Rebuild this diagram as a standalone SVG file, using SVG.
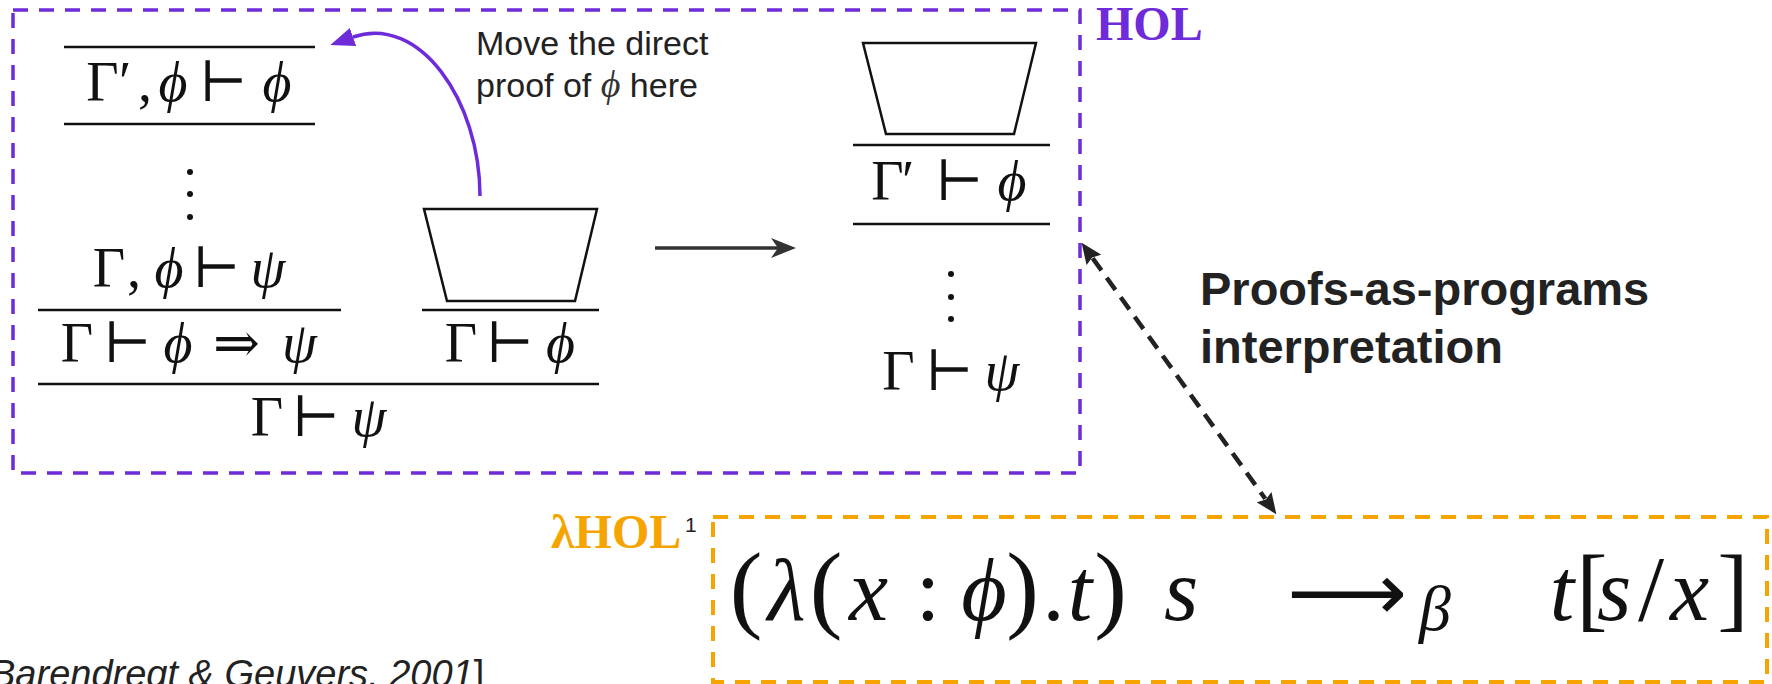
<svg xmlns="http://www.w3.org/2000/svg" width="1772" height="684" viewBox="0 0 1772 684">
<style>
.m{font-family:"Liberation Serif","DejaVu Serif",serif;font-size:56px;fill:#111;text-anchor:middle}
.i{font-style:italic}
.f{font-family:"Liberation Serif","DejaVu Serif",serif;font-size:88px;fill:#111;text-anchor:middle}
.rule{stroke:#111;stroke-width:2.5}
.trap{fill:none;stroke:#111;stroke-width:2.5;stroke-linejoin:miter}
.dot{fill:#111}
.sans{font-family:"Liberation Sans",Arial,sans-serif;fill:#222}
.hol{font-family:"Liberation Serif","Times New Roman",serif;font-weight:bold;font-size:48px}
</style>
<defs>
<marker id="ahPurple" markerUnits="userSpaceOnUse" viewBox="0 0 24 19" markerWidth="24" markerHeight="19" refX="0" refY="9.5" orient="auto"><path d="M0,0 L24,9.5 L0,19 z" fill="#6d2bd9"/></marker>
<marker id="ahSolid" markerUnits="userSpaceOnUse" viewBox="0 0 25 20" markerWidth="25" markerHeight="20" refX="7" refY="10" orient="auto"><path d="M0,0 L25,10 L0,20 L7,10 z" fill="#333"/></marker>
<marker id="ahDash" markerUnits="userSpaceOnUse" viewBox="0 0 21 18" markerWidth="21" markerHeight="18" refX="2" refY="9" orient="auto-start-reverse"><path d="M0,0 L21,9 L0,18 L3,9 z" fill="#222"/></marker>
</defs>

<g id="hol-box">
<rect x="13" y="10" width="1067" height="463" fill="none" stroke="#6d2bd9" stroke-width="3.5" stroke-dasharray="15 11"/>
<text class="hol" x="1096" y="40" fill="#6d2bd9">HOL</text>
</g>

<g id="proof-before">
<line class="rule" x1="64" y1="47" x2="315" y2="47"/>
<text class="m" y="101"><tspan x="102.5">Γ</tspan><tspan x="125">′</tspan><tspan x="145">,</tspan><tspan class="i" x="173">ϕ</tspan><tspan x="223.5">⊢</tspan><tspan class="i" x="277">ϕ</tspan></text>
<line class="rule" x1="64" y1="124" x2="315" y2="124"/>
<circle class="dot" cx="190" cy="172" r="3"/>
<circle class="dot" cx="190" cy="194" r="3"/>
<circle class="dot" cx="190" cy="217" r="3"/>
<text class="m" y="287"><tspan x="109">Γ</tspan><tspan x="134">,</tspan><tspan class="i" x="169">ϕ</tspan><tspan x="216.5">⊢</tspan><tspan class="i" x="268">ψ</tspan></text>
<line class="rule" x1="38" y1="310" x2="341" y2="310"/>
<text class="m" y="362"><tspan x="77">Γ</tspan><tspan x="127.5">⊢</tspan><tspan class="i" x="178">ϕ</tspan><tspan x="236.5">⇒</tspan><tspan class="i" x="299.5">ψ</tspan></text>
<polygon class="trap" points="424,209 597,209 575,301 447,301"/>
<line class="rule" x1="422" y1="310" x2="599" y2="310"/>
<text class="m" y="362"><tspan x="461">Γ</tspan><tspan x="510">⊢</tspan><tspan class="i" x="560.5">ϕ</tspan></text>
<line class="rule" x1="38" y1="384" x2="599" y2="384"/>
<text class="m" y="436"><tspan x="267">Γ</tspan><tspan x="316">⊢</tspan><tspan class="i" x="369">ψ</tspan></text>
</g>

<g id="note">
<text class="sans" font-size="34" x="476" y="55">Move the direct</text>
<text class="sans" font-size="34" x="476" y="97">proof of <tspan font-family="Liberation Serif, DejaVu Serif, serif" font-style="italic" font-size="38" fill="#333">ϕ</tspan> here</text>
</g>

<g id="proof-after">
<polygon class="trap" points="863,43 1036,43 1014,134 886,134"/>
<line class="rule" x1="853" y1="145" x2="1050" y2="145"/>
<text class="m" y="200"><tspan x="887.5">Γ</tspan><tspan x="908">′</tspan><tspan x="959.5">⊢</tspan><tspan class="i" x="1012">ϕ</tspan></text>
<line class="rule" x1="853" y1="224" x2="1050" y2="224"/>
<circle class="dot" cx="951" cy="274" r="3"/>
<circle class="dot" cx="951" cy="297" r="3"/>
<circle class="dot" cx="951" cy="319" r="3"/>
<text class="m" y="390"><tspan x="898.5">Γ</tspan><tspan x="949.5">⊢</tspan><tspan class="i" x="1002">ψ</tspan></text>
</g>

<g id="pap-label">
<text class="sans" font-size="47" font-weight="bold" x="1200" y="305">Proofs-as-programs</text>
<text class="sans" font-size="47" font-weight="bold" x="1200" y="363">interpretation</text>
</g>

<g id="lambda-box">
<rect x="713" y="517" width="1054" height="165" fill="none" stroke="#f6a500" stroke-width="4" stroke-dasharray="15 11"/>
<text class="hol" x="551" y="548" fill="#f6a500">λHOL</text>
<text class="sans" font-size="21" x="685" y="532" fill="#333">1</text>
<text class="f" y="620"><tspan x="746" font-size="98">(</tspan><tspan class="i" x="786.5">λ</tspan><tspan x="826" font-size="98">(</tspan><tspan class="i" x="868.5">x</tspan><tspan x="928">:</tspan><tspan class="i" x="984">ϕ</tspan><tspan x="1022.5" font-size="98">)</tspan><tspan x="1053.5">.</tspan><tspan class="i" x="1080">t</tspan><tspan x="1110.5" font-size="98">)</tspan><tspan class="i" x="1181">s</tspan></text>
<text x="1287" y="620" font-family="DejaVu Sans, sans-serif" font-size="80" fill="#111" textLength="120" lengthAdjust="spacingAndGlyphs">⟶</text>
<text class="f i" x="1435" y="630" style="font-size:64px">β</text>
<text class="f" y="620"><tspan class="i" x="1562">t</tspan><tspan x="1592" font-size="94">[</tspan><tspan class="i" x="1614">s</tspan><tspan x="1651" font-size="94">/</tspan><tspan class="i" x="1689.5">x</tspan><tspan x="1733" font-size="94">]</tspan></text>
</g>

<g id="citation">
<text class="sans" font-size="38" font-style="italic" x="-10" y="687" fill="#333">Barendregt &amp; Geuvers, 2001<tspan font-style="normal">]</tspan></text>
</g>

<g id="connectors">
<path d="M480,196 C480,100 419,14 353,37" fill="none" stroke="#6d2bd9" stroke-width="3.5" marker-end="url(#ahPurple)"/>
<line x1="655" y1="248" x2="778" y2="248" stroke="#333" stroke-width="3.5" marker-end="url(#ahSolid)"/>
<line x1="1092.7" y1="258.2" x2="1265.3" y2="498.8" stroke="#222" stroke-width="4.5" stroke-dasharray="15 9" marker-start="url(#ahDash)" marker-end="url(#ahDash)"/>
</g>
</svg>
